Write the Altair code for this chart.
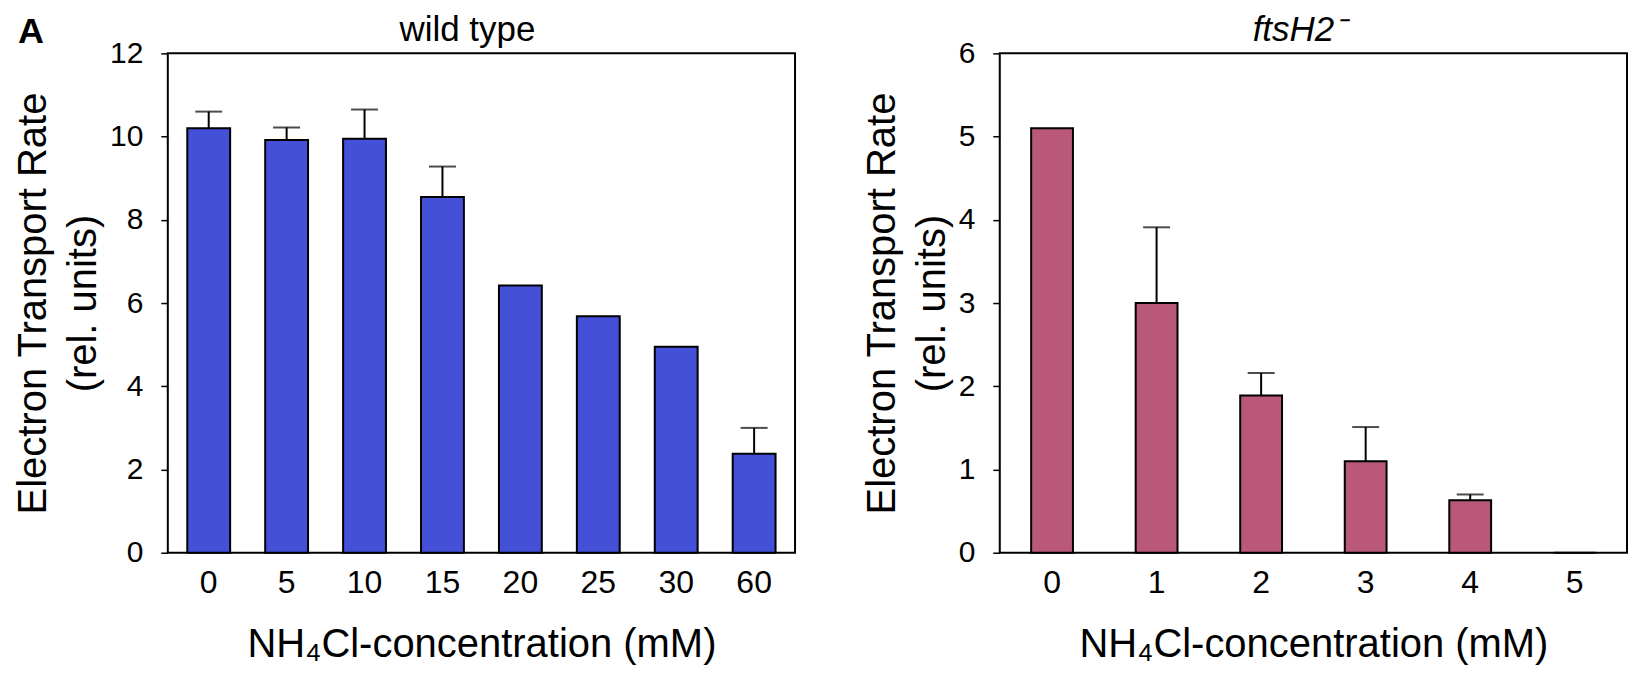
import altair as alt
import pandas as pd

# ---- data ----
wt_conc = ["0", "5", "10", "15", "20", "25", "30", "60"]
wt_rate = [10.2, 9.92, 9.95, 8.55, 6.42, 5.68, 4.95, 2.38]
wt_err = [0.4, 0.3, 0.7, 0.73, 0.0, 0.0, 0.0, 0.62]

mut_conc = ["0", "1", "2", "3", "4", "5"]
mut_rate = [5.1, 3.0, 1.89, 1.1, 0.63, 0.0]
mut_err = [0.0, 0.91, 0.27, 0.41, 0.07, 0.0]

wt_ticks = [0, 2, 4, 6, 8, 10, 12]
mut_ticks = [0, 1, 2, 3, 4, 5, 6]

FONT = "Liberation Sans, Arial, Helvetica, sans-serif"
X_TITLE = "NH\u2084Cl-concentration (mM)"
Y_TITLE = ["Electron Transport Rate", "(rel. units)"]
PANEL_TITLES = ["wild type", "ftsH2\u207b"]
PANEL_LETTER = "A"


def panel(conc, rate, err, ymax, ticks, color, title, italic, pad_inner, pad_outer, letter=None):
    df = pd.DataFrame({"conc": conc, "rate": rate, "err": err})
    x = alt.X(
        "conc:N",
        sort=None,
        scale=alt.Scale(domain=conc, paddingInner=pad_inner, paddingOuter=pad_outer),
        axis=alt.Axis(
            title=X_TITLE,
            labelAngle=0,
            ticks=False,
            domain=False,
            labelPadding=15,
            labelFontSize=32,
            labelFont=FONT,
            labelColor="black",
            titleFontSize=40,
            titleFont=FONT,
            titleFontWeight="normal",
            titleColor="black",
            titlePadding=26,
        ),
    )
    y = alt.Y(
        "rate:Q",
        scale=alt.Scale(domain=[0, ymax], nice=False, zero=True),
        axis=alt.Axis(
            title=Y_TITLE,
            values=ticks,
            format="d",
            grid=False,
            domain=False,
            tickSize=7,
            tickWidth=1.5,
            tickColor="black",
            labelPadding=18,
            labelFontSize=30,
            labelFont=FONT,
            labelColor="black",
            titleFontSize=40,
            titleFont=FONT,
            titleFontWeight="normal",
            titleColor="black",
            titleLineHeight=50,
            titlePadding=6,
        ),
    )
    base = alt.Chart(df)
    bars = base.mark_bar(color=color, stroke="black", strokeWidth=2).encode(x=x, y=y)
    errs = base.transform_filter("datum.err > 0").transform_calculate(upper="datum.rate + datum.err")
    rule = errs.mark_rule(color="black", strokeWidth=2).encode(x=x, y="rate:Q", y2="upper:Q")
    cap = errs.mark_tick(color="black", thickness=2, size=27).encode(x=x, y="upper:Q")
    ttl = alt.Chart(pd.DataFrame({"t": [title]})).mark_text(
        font=FONT,
        fontSize=35,
        fontStyle="italic" if italic else "normal",
        color="black",
        align="center",
        baseline="alphabetic",
    ).encode(text="t:N", x=alt.value(300), y=alt.value(-12))
    layers = [bars, rule, cap, ttl]
    if letter:
        lt = alt.Chart(pd.DataFrame({"t": [letter]})).mark_text(
            font=FONT, fontSize=36, fontWeight="bold", color="black", align="left", baseline="alphabetic"
        ).encode(text="t:N", x=alt.value(-150), y=alt.value(-10))
        layers.append(lt)
    return alt.layer(*layers).properties(width=628, height=500)


left = panel(wt_conc, wt_rate, wt_err, 12, wt_ticks, "#4450D8", PANEL_TITLES[0], False, 0.45, 0.25, PANEL_LETTER)
right = panel(mut_conc, mut_rate, mut_err, 6, mut_ticks, "#B95878", PANEL_TITLES[1], True, 0.6, 0.3)

chart = (
    alt.hconcat(left, right, spacing=65)
    .properties(padding={"left": 4, "top": 4, "right": 5, "bottom": 5}, background="white")
    .configure_view(stroke="black", strokeWidth=2)
)

chart.save("out.html", embed_options={"renderer": "svg", "actions": False})
